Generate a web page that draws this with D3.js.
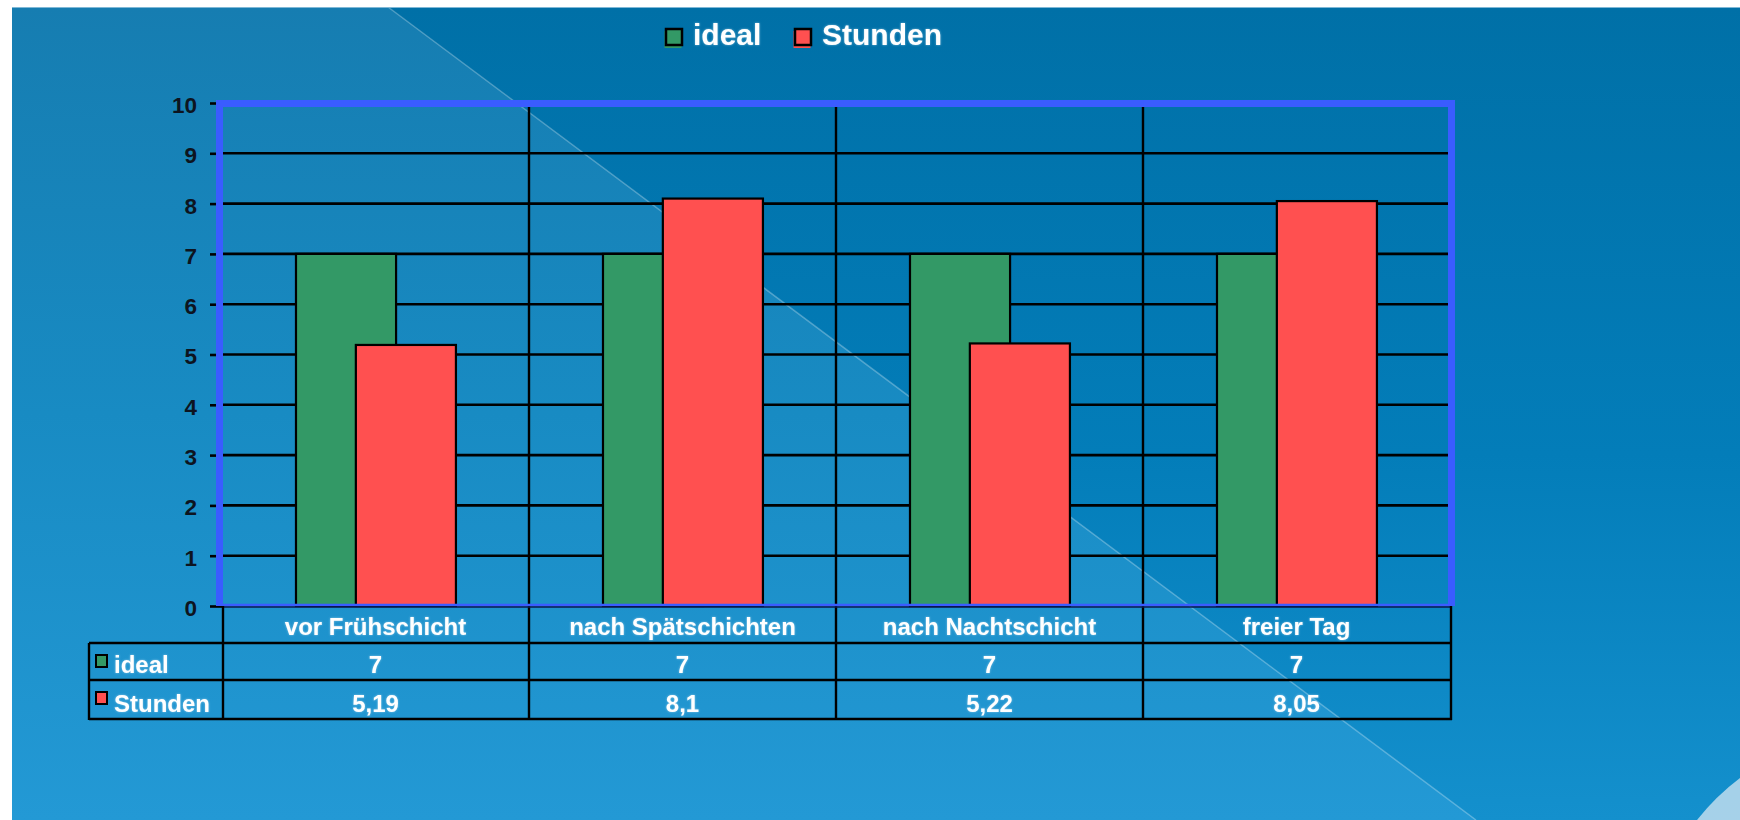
<!DOCTYPE html>
<html>
<head>
<meta charset="utf-8">
<script src="https://cdn.jsdelivr.net/npm/d3@7"></script>
<style>
  html, body { margin: 0; padding: 0; background: #ffffff; }
  svg { display: block; }
</style>
</head>
<body>
<svg id="chart" width="1740" height="820"></svg>
<script>
// ---------------- data ----------------
const categories = ["vor Frühschicht", "nach Spätschichten", "nach Nachtschicht", "freier Tag"];
const seriesNames = ["ideal", "Stunden"];
const idealValues = [7, 7, 7, 7];
const stundenValues = [5.19, 8.1, 5.22, 8.05];
const yTickValues = [0, 1, 2, 3, 4, 5, 6, 7, 8, 9, 10];

// ---------------- styles / layout ----------------
const seriesColors = ["#339966", "#ff5050"];
const seriesValues = [idealValues, stundenValues];
const W = 1740, H = 820;
const plotLeft = 222, plotRight = 1450, plotTop = 103, plotBottom = 606;
const tableLeft = 89, rowBottoms = [643, 680, 719];
const frameBlue = "#3a5cff";
const fontFam = "'Liberation Sans', Arial, Helvetica, sans-serif";

const svg = d3.select("#chart");
const defs = svg.append("defs");

// background gradients
const gRight = defs.append("linearGradient").attr("id", "bgRight").attr("x1", 0).attr("y1", 0).attr("x2", 0).attr("y2", 1);
gRight.append("stop").attr("offset", "0%").attr("stop-color", "#0070a7");
gRight.append("stop").attr("offset", "55%").attr("stop-color", "#037db9");
gRight.append("stop").attr("offset", "100%").attr("stop-color", "#1490cd");
const gLeft = defs.append("linearGradient").attr("id", "bgLeft").attr("x1", 0).attr("y1", 0).attr("x2", 0).attr("y2", 1);
gLeft.append("stop").attr("offset", "0%").attr("stop-color", "#167db1");
gLeft.append("stop").attr("offset", "50%").attr("stop-color", "#188bc3");
gLeft.append("stop").attr("offset", "100%").attr("stop-color", "#2399d5");
const glow = defs.append("filter").attr("id", "glow").attr("x", "-10%").attr("y", "-30%").attr("width", "120%").attr("height", "160%");
glow.append("feDropShadow").attr("dx", 0).attr("dy", 0).attr("stdDeviation", 1.2)
  .attr("flood-color", "#cfe8f8").attr("flood-opacity", 0.55);

// window background
const bgX = 12, bgY = 7;
svg.append("rect").attr("x", bgX).attr("y", bgY).attr("width", W - bgX).attr("height", H - bgY).attr("fill", "url(#bgRight)");
const diagTop = [388, bgY], diagBottom = [1476, H];
svg.append("path")
  .attr("d", `M${bgX},${bgY} L${diagTop[0]},${diagTop[1]} L${diagBottom[0]},${diagBottom[1]} L${bgX},${H} Z`)
  .attr("fill", "url(#bgLeft)");
svg.append("line")
  .attr("x1", diagTop[0]).attr("y1", diagTop[1]).attr("x2", diagBottom[0]).attr("y2", diagBottom[1])
  .attr("stroke", "#ffffff").attr("stroke-opacity", 0.28).attr("stroke-width", 1.5);
svg.append("line").attr("x1", bgX).attr("x2", W).attr("y1", bgY + 0.5).attr("y2", bgY + 0.5)
  .attr("stroke", "#7fb8d6").attr("stroke-width", 1);
svg.append("path")
  .attr("d", `M1697,${H} Q1716,796 ${W},778 L${W},${H} Z`)
  .attr("fill", "#b6d8ec").attr("opacity", 0.9);

// ---------------- scales ----------------
const x = d3.scaleBand().domain(categories).range([plotLeft, plotRight]).padding(0);
const y = d3.scaleLinear().domain([0, 10]).range([plotBottom, plotTop]);
const bw = x.bandwidth();
const seriesOffset = d3.scaleOrdinal().domain(seriesNames).range([0.241 * bw, 0.436 * bw]);
const barW = 0.326 * bw;

// gridlines
svg.append("g").selectAll("line").data(yTickValues.filter(v => v > 0 && v < 10)).join("line")
  .attr("x1", plotLeft + 1).attr("x2", plotRight - 2)
  .attr("y1", d => y(d)).attr("y2", d => y(d))
  .attr("stroke", "#000").attr("stroke-width", 2.6);

// category dividers (plot + table)
svg.append("g").selectAll("line").data(categories.slice(1)).join("line")
  .attr("x1", d => x(d)).attr("x2", d => x(d))
  .attr("y1", plotTop + 4).attr("y2", rowBottoms[2])
  .attr("stroke", "#000").attr("stroke-width", 2.4);

// y axis (ticks + labels)
const yAxis = d3.axisLeft(y).tickValues(yTickValues).tickSize(12).tickPadding(13).tickFormat(d3.format("d"));
const gy = svg.append("g").attr("transform", `translate(${plotLeft},0)`).call(yAxis);
gy.select(".domain").remove();
gy.selectAll(".tick line").attr("stroke", "#000").attr("stroke-width", 2.6);
gy.selectAll(".tick text")
  .attr("fill", "#0d1420").attr("font-family", fontFam).attr("font-weight", "bold")
  .attr("font-size", 22.5).attr("dy", "0.42em");

// bars
seriesNames.forEach((s, si) => {
  svg.append("g").selectAll("rect").data(categories.map((c, i) => ({ c, v: seriesValues[si][i] }))).join("rect")
    .attr("x", d => x(d.c) + seriesOffset(s))
    .attr("width", barW)
    .attr("y", d => y(d.v))
    .attr("height", d => y(0) - y(d.v))
    .attr("fill", seriesColors[si])
    .attr("stroke", "#000").attr("stroke-width", 2.2);
});

// plot frame (blue)
svg.append("path")
  .attr("d", `M${plotLeft - 2.5},${plotBottom} L${plotLeft - 2.5},${plotTop + 0.5} L${plotRight + 1.5},${plotTop + 0.5} L${plotRight + 1.5},${plotBottom}`)
  .attr("fill", "none").attr("stroke", frameBlue).attr("stroke-width", 7);
svg.append("line").attr("x1", plotLeft).attr("x2", plotRight + 1.5).attr("y1", plotBottom - 1).attr("y2", plotBottom - 1)
  .attr("stroke", frameBlue).attr("stroke-width", 2.5);
svg.append("line").attr("x1", plotLeft).attr("x2", plotRight + 1.5).attr("y1", plotBottom + 1).attr("y2", plotBottom + 1)
  .attr("stroke", "#0a1a50").attr("stroke-width", 1.5);

// ---------------- data table ----------------
const tbl = svg.append("g").attr("stroke", "#000").attr("stroke-width", 2.4);
tbl.append("line").attr("x1", plotLeft + 1).attr("x2", plotLeft + 1).attr("y1", plotBottom).attr("y2", rowBottoms[2] + 1);
tbl.append("line").attr("x1", plotRight + 1).attr("x2", plotRight + 1).attr("y1", plotBottom).attr("y2", rowBottoms[2] + 1);
tbl.append("line").attr("x1", tableLeft).attr("x2", tableLeft).attr("y1", rowBottoms[0]).attr("y2", rowBottoms[2] + 1);
tbl.selectAll("line.h").data(rowBottoms).join("line").attr("class", "h")
  .attr("x1", tableLeft).attr("x2", plotRight + 2)
  .attr("y1", d => d).attr("y2", d => d);

const txt = svg.append("g").attr("fill", "#ffffff").attr("font-family", fontFam)
  .attr("font-weight", "bold").attr("font-size", 24).attr("filter", "url(#glow)");
txt.selectAll("text.cat").data(categories).join("text").attr("class", "cat")
  .attr("x", d => x(d) + bw / 2).attr("y", rowBottoms[0] - 8)
  .attr("text-anchor", "middle").text(d => d);
const fmt = v => String(v).replace(".", ",");
seriesNames.forEach((s, si) => {
  txt.selectAll(`text.v${si}`).data(categories).join("text").attr("class", `v${si}`)
    .attr("x", d => x(d) + bw / 2).attr("y", rowBottoms[si + 1] - 7)
    .attr("text-anchor", "middle").text((d, i) => fmt(seriesValues[si][i]));
  txt.append("text").attr("x", 114).attr("y", rowBottoms[si + 1] - 7).text(s);
  svg.append("rect").attr("x", 96).attr("y", rowBottoms[si] + 12).attr("width", 11).attr("height", 12)
    .attr("fill", seriesColors[si]).attr("stroke", "#000").attr("stroke-width", 2);
});

// ---------------- legend ----------------
const legendX = [666, 795];
const lg = svg.append("g");
seriesNames.forEach((s, si) => {
  lg.append("rect").attr("x", legendX[si] - 1.5).attr("y", 31).attr("width", 17).attr("height", 17)
    .attr("fill", seriesColors[si]);
  lg.append("rect").attr("x", legendX[si]).attr("y", 29).attr("width", 16).attr("height", 16)
    .attr("fill", seriesColors[si]).attr("stroke", "#000").attr("stroke-width", 2.5);
  lg.append("text").attr("x", legendX[si] + 27).attr("y", 45)
    .attr("fill", "#fff").attr("font-family", fontFam).attr("font-weight", "bold")
    .attr("font-size", 30).attr("filter", "url(#glow)").text(s);
});
</script>
</body>
</html>
